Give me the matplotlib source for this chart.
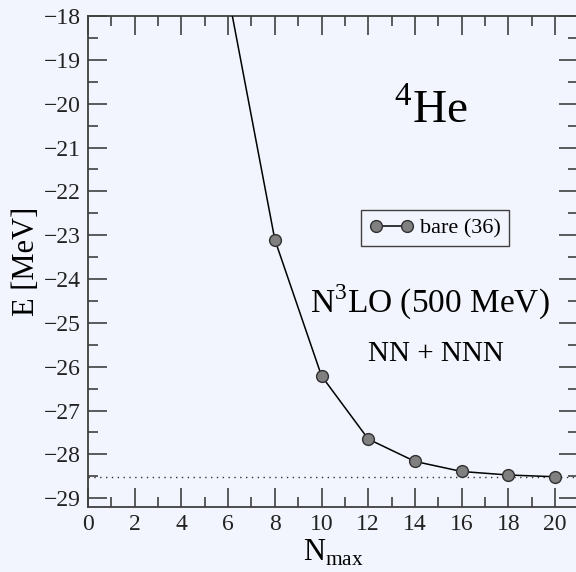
import numpy as np
import matplotlib.pyplot as plt
from matplotlib.ticker import MultipleLocator

# data
nmax = [6, 8, 10, 12, 14, 16, 18, 20]
energy = [-17.49, -23.10, -26.21, -27.65, -28.16, -28.39, -28.47, -28.51]
e_extrap = -28.52

plt.rcParams['font.family'] = ['Liberation Serif', 'DejaVu Serif']
plt.rcParams['mathtext.fontset'] = 'custom'
plt.rcParams['mathtext.rm'] = 'Liberation Serif'

bg = '#f2f5fd'
fig = plt.figure(figsize=(5.76, 5.72), dpi=100, facecolor=bg)
ax = fig.add_axes([88 / 576, 1 - 507 / 572, 490.4 / 576, 491 / 572])
ax.set_facecolor(bg)

# converged value
ax.axhline(e_extrap, color='#333333', lw=1.0, ls=(0, (1, 3.2)), zorder=1)

ax.plot(nmax, energy, color='black', lw=1.1, marker='o', ms=8.5,
        mfc='#808080', mec='#303030', mew=1.0, label='bare (36)', zorder=3)

ax.set_xlim(0, 21)
ax.set_ylim(-29.2, -18)
ax.xaxis.set_major_locator(MultipleLocator(2))
ax.xaxis.set_minor_locator(MultipleLocator(1))
ax.yaxis.set_major_locator(MultipleLocator(1))
ax.yaxis.set_minor_locator(MultipleLocator(0.5))

ax.tick_params(which='both', direction='in', top=True, right=True,
               color='#404040', width=1.2, labelsize=17, labelcolor='#222222')
ax.tick_params(which='major', length=14, pad=5)
ax.tick_params(which='minor', length=7)
for sp in ax.spines.values():
    sp.set_color('#404040')
    sp.set_linewidth(1.3)

ax.set_xlabel(r'N$_{\rm max}$', fontsize=22, labelpad=2)
ax.set_ylabel('E [MeV]', fontsize=22, labelpad=2)

leg = ax.legend(loc='upper left', bbox_to_anchor=(0.557, 0.605), fontsize=16,
                frameon=True, fancybox=False, edgecolor='#404040',
                facecolor=bg, handlelength=2.0, handletextpad=0.3,
                borderpad=0.35, borderaxespad=0, numpoints=2)
leg.get_frame().set_linewidth(1.0)
leg.get_frame().set_alpha(None)

ax.text(0.70, 0.806, r'$^{4}$He', transform=ax.transAxes, fontsize=34,
        ha='center', va='center')
ax.text(0.697, 0.4175, r'N$^{3}$LO (500 MeV)', transform=ax.transAxes,
        fontsize=24, ha='center', va='center')
ax.text(0.709, 0.312, 'NN + NNN', transform=ax.transAxes, fontsize=21,
        ha='center', va='center')

fig.savefig('out.png', dpi=100, facecolor=bg)
